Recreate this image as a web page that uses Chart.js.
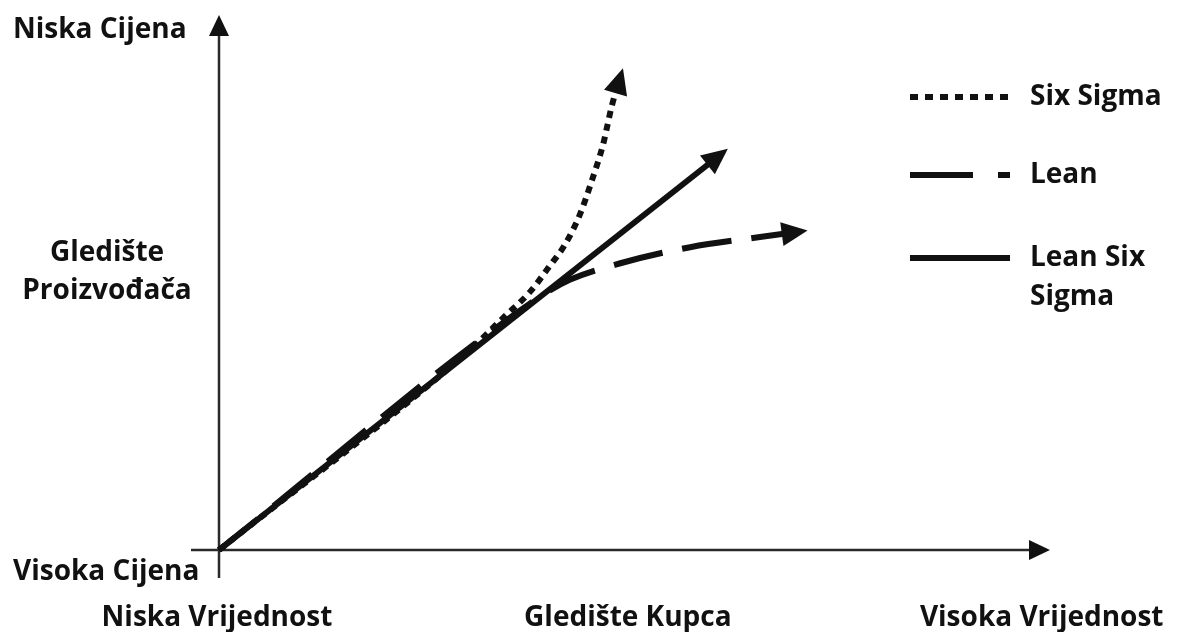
<!DOCTYPE html>
<html>
<head>
<meta charset="utf-8">
<script src="https://cdn.jsdelivr.net/npm/chart.js@4"></script>
<style>
    html, body { margin: 0; padding: 0; background: #ffffff; }
    #wrap { width: 1181px; height: 632px; position: relative; }
</style>
</head>
<body>
<div id="wrap"><canvas id="chart"></canvas></div>
<script>
// Series (x, y in 0..100 units of the two axes)
const seriesLabels = ['Six Sigma', 'Lean', 'Lean Six Sigma'];
const sixSigmaX = [0, 30.2, 34.2, 37.4, 39.8, 41.6, 43.4, 44.9, 46.2, 47.3, 48.2];
const sixSigmaY = [0, 37.4, 43.4, 48.2, 53.1, 57.0, 62.6, 69.2, 75.7, 83.2, 87.9];
const leanX = [0, 38.6, 42.2, 48.3, 56.7, 65.1, 69.4];
const leanY = [0, 47.3, 50.5, 53.6, 56.6, 58.5, 59.4];
const leanSixSigmaX = [0, 60.1];
const leanSixSigmaY = [0, 73.6];

// Axis texts
const yAxisLabels = ['Niska Cijena', ['Gledište', 'Proizvođača'], 'Visoka Cijena'];
const xAxisLabels = ['Niska Vrijednost', 'Gledište Kupca', 'Visoka Vrijednost'];

const FONT = 'bold 28px "Open Sans", sans-serif';
const INK = '#111111';

function toPoints(xs, ys) {
    return xs.map((x, i) => ({ x: x, y: ys[i] }));
}

// filled triangle, tip pushed `ahead` px past the given point
function arrowHead(ctx, px, py, fromX, fromY, len, half, ahead) {
    const a = Math.atan2(py - fromY, px - fromX);
    const tipX = px + Math.cos(a) * ahead;
    const tipY = py + Math.sin(a) * ahead;
    const bx = tipX - Math.cos(a) * len;
    const by = tipY - Math.sin(a) * len;
    ctx.beginPath();
    ctx.moveTo(tipX, tipY);
    ctx.lineTo(bx + Math.sin(a) * half, by - Math.cos(a) * half);
    ctx.lineTo(bx - Math.sin(a) * half, by + Math.cos(a) * half);
    ctx.closePath();
    ctx.fill();
}

/**
 * Axes with arrows, drawn from the scales
 */
const axesPlugin = {
    id: 'arrowAxes',
    beforeDatasetsDraw(chart) {
        const { ctx, scales: { x, y } } = chart;
        const ox = x.getPixelForValue(0);
        const oy = y.getPixelForValue(0);
        const xEnd = x.getPixelForValue(100);
        const yEnd = y.getPixelForValue(100);
        ctx.save();
        ctx.strokeStyle = '#2a2a2a';
        ctx.fillStyle = '#111';
        ctx.lineWidth = 2.5;
        ctx.beginPath();
        ctx.moveTo(ox - 28, oy);
        ctx.lineTo(xEnd - 15, oy);
        ctx.moveTo(ox, oy + 28);
        ctx.lineTo(ox, yEnd + 15);
        ctx.stroke();
        arrowHead(ctx, xEnd, oy, ox, oy, 21, 10, 0);
        arrowHead(ctx, ox, yEnd, ox, oy, 21, 10, 0);
        ctx.restore();
    },
    afterDatasetsDraw(chart) {
        const { ctx } = chart;
        ctx.save();
        ctx.fillStyle = INK;
        chart.data.datasets.forEach((ds, i) => {
            const pts = chart.getDatasetMeta(i).data;
            const n = pts.length;
            const last = pts[n - 1];
            let fx = last.cp1x, fy = last.cp1y;
            if (fx === undefined || Math.hypot(last.x - fx, last.y - fy) < 1) {
                fx = pts[n - 2].x; fy = pts[n - 2].y;
            }
            arrowHead(ctx, last.x, last.y, fx, fy, 26, 12, 12);
        });
        ctx.restore();
    }
};

/**
 * Axis texts and legend
 */
const textPlugin = {
    id: 'axisTexts',
    afterDraw(chart) {
        const { ctx, scales: { x, y } } = chart;
        const ox = x.getPixelForValue(0);
        const oy = y.getPixelForValue(0);
        ctx.save();
        ctx.font = FONT;
        ctx.fillStyle = INK;
        ctx.textBaseline = 'middle';

        // y side
        ctx.textAlign = 'left';
        ctx.fillText(yAxisLabels[0], 13, y.getPixelForValue(97.2));
        ctx.fillText(yAxisLabels[2], 13, oy + 22);
        ctx.textAlign = 'center';
        const mid = y.getPixelForValue(52);
        ctx.fillText(yAxisLabels[1][0], 107, mid - 19);
        ctx.fillText(yAxisLabels[1][1], 107, mid + 19);

        // x side
        const ty = oy + 68;
        ctx.fillText(xAxisLabels[0], ox - 2, ty);
        ctx.fillText(xAxisLabels[1], x.getPixelForValue(49.2), ty);
        ctx.fillText(xAxisLabels[2], x.getPixelForValue(99), ty);

        // legend
        const rows = [97, 175, 258];
        ctx.textAlign = 'left';
        chart.data.datasets.forEach((ds, i) => {
            const ry = rows[i];
            ctx.save();
            ctx.strokeStyle = INK;
            ctx.lineWidth = 6;
            ctx.setLineDash(i === 0 ? [8, 7] : i === 1 ? [63, 25] : []);
            ctx.beginPath();
            ctx.moveTo(910, ry);
            ctx.lineTo(1010, ry);
            ctx.stroke();
            ctx.restore();
        });
        ctx.fillText('Six Sigma', 1030, rows[0]);
        ctx.fillText('Lean', 1030, rows[1]);
        ctx.fillText('Lean Six', 1030, rows[2]);
        ctx.fillText('Sigma', 1030, rows[2] + 39);
        ctx.restore();
    }
};

function lineDataset(label, xs, ys, dash) {
    return {
        label: label,
        data: toPoints(xs, ys),
        borderColor: INK,
        borderWidth: 6,
        borderDash: dash,
        borderCapStyle: 'butt',
        pointRadius: 0,
        fill: false,
        showLine: true,
        tension: 0.4,
        cubicInterpolationMode: 'monotone',
        clip: false
    };
}

new Chart(document.getElementById('chart'), {
    type: 'scatter',
    data: {
        datasets: [
            lineDataset(seriesLabels[0], sixSigmaX, sixSigmaY, [7, 6]),
            lineDataset(seriesLabels[1], leanX, leanY, [50, 20]),
            lineDataset(seriesLabels[2], leanSixSigmaX, leanSixSigmaY, [])
        ]
    },
    options: {
        responsive: true,
        maintainAspectRatio: false,
        animation: false,
        layout: { padding: { left: 219, right: 131, top: 15, bottom: 82 } },
        plugins: {
            legend: { display: false },
            tooltip: { enabled: false }
        },
        scales: {
            x: { type: 'linear', min: 0, max: 100, display: false },
            y: { type: 'linear', min: 0, max: 100, display: false }
        }
    },
    plugins: [axesPlugin, textPlugin]
});
</script>
</body>
</html>
